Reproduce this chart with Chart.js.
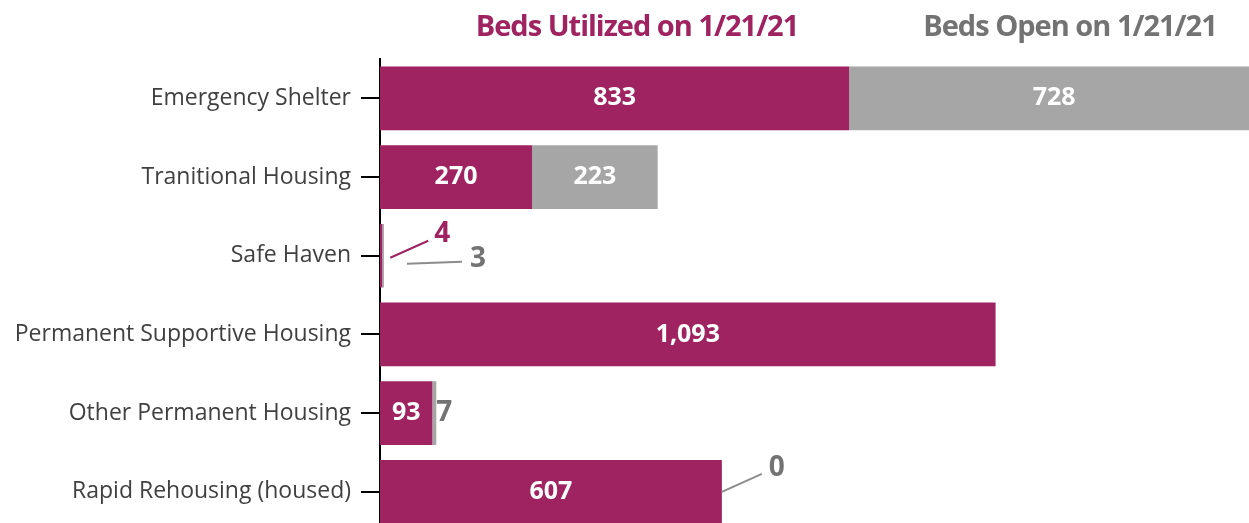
<!DOCTYPE html>
<html lang="en">
<head>
  <meta charset="UTF-8" />
  <title>Beds Utilized / Open</title>
  <script src="https://cdn.jsdelivr.net/npm/chart.js"></script>
  <style>
    html, body { margin: 0; padding: 0; background: #fff; overflow: hidden; }
    #wrap { position: relative; width: 1249px; height: 555px; }
  </style>
</head>
<body>
  <div id="wrap"><canvas id="bedsChart"></canvas></div>

  <script>
    const categories = [
      'Emergency Shelter',
      'Tranitional Housing',
      'Safe Haven',
      'Permanent Supportive Housing',
      'Other Permanent Housing',
      'Rapid Rehousing (housed)'
    ];
    const bedsUtilized = [833, 270, 4, 1093, 93, 607];
    const bedsOpen = [728, 223, 3, null, 7, 0];
    const seriesNames = ['Beds Utilized on 1/21/21', 'Beds Open on 1/21/21'];

    const MAGENTA = '#9f2360';
    const GRAY_BAR = '#a6a6a6';
    const GRAY_TEXT = '#737373';

    // labels that don't fit inside the bar get a leader line (offsets from the bar end)
    const callouts = {
      '0-2': { line: [8, 2, 46, -15], text: [60, -22] },
      '1-2': { line: [23, 8, 78, 6], text: [94, 3] },
      '1-4': { text: [8, 0] },
      '1-5': { line: [0, 0, 40, -18], text: [55, -24] }
    };

    const labelPlugin = {
      id: 'labels',
      afterDatasetsDraw(chart) {
        const ctx = chart.ctx;
        ctx.save();
        ctx.textAlign = 'center';
        ctx.textBaseline = 'middle';
        chart.data.datasets.forEach((ds, di) => {
          const meta = chart.getDatasetMeta(di);
          meta.data.forEach((bar, i) => {
            const v = ds.data[i];
            if (v === null || v === undefined) return;
            const txt = v.toLocaleString('en-US');
            const c = callouts[di + '-' + i];
            if (c) {
              const x = bar.x, y = bar.y;
              if (c.line) {
                ctx.strokeStyle = di === 0 ? MAGENTA : '#8c8c8c';
                ctx.lineWidth = 2;
                ctx.beginPath();
                ctx.moveTo(x + c.line[0], y + c.line[1]);
                ctx.lineTo(x + c.line[2], y + c.line[3]);
                ctx.stroke();
              }
              ctx.font = 'bold 28px "Open Sans"';
              ctx.fillStyle = di === 0 ? MAGENTA : GRAY_TEXT;
              ctx.fillText(txt, x + c.text[0], y + c.text[1]);
            } else {
              ctx.font = 'bold 25px "Open Sans"';
              ctx.fillStyle = '#fff';
              ctx.fillText(txt, (bar.base + bar.x) / 2, bar.y);
            }
          });
        });
        ctx.restore();
      }
    };

    const legendPlugin = {
      id: 'topLegend',
      afterDraw(chart) {
        const ctx = chart.ctx;
        const centers = [637, 1070];
        ctx.save();
        ctx.textAlign = 'center';
        ctx.textBaseline = 'middle';
        ctx.font = 'bold 29px "Open Sans"';
        ctx.letterSpacing = '-1px';
        chart.data.datasets.forEach((ds, di) => {
          ctx.fillStyle = di === 0 ? MAGENTA : GRAY_TEXT;
          ctx.fillText(ds.label, centers[di], 28);
        });
        ctx.restore();
      }
    };

    new Chart(document.getElementById('bedsChart'), {
      type: 'bar',
      data: {
        labels: categories,
        datasets: [
          { label: seriesNames[0], data: bedsUtilized, backgroundColor: MAGENTA },
          { label: seriesNames[1], data: bedsOpen, backgroundColor: GRAY_BAR }
        ]
      },
      options: {
        indexAxis: 'y',
        responsive: true,
        maintainAspectRatio: false,
        animation: false,
        layout: { padding: { top: 59, bottom: 0, left: 0, right: 0 } },
        datasets: { bar: { barPercentage: 0.81, categoryPercentage: 1 } },
        plugins: {
          legend: { display: false },
          tooltip: { enabled: false }
        },
        scales: {
          x: { stacked: true, display: false, min: 0, max: 1543 },
          y: {
            stacked: true,
            afterFit(scale) { scale.width = 380; },
            border: { display: true, color: '#000', width: 2 },
            grid: { offset: false, drawOnChartArea: false, drawTicks: true, tickLength: 19, tickColor: '#000', lineWidth: 2 },
            ticks: {
              padding: 10,
              color: '#404040',
              font: { family: '"Open Sans"', size: 23 }
            }
          }
        }
      },
      plugins: [labelPlugin, legendPlugin]
    });
  </script>
</body>
</html>
